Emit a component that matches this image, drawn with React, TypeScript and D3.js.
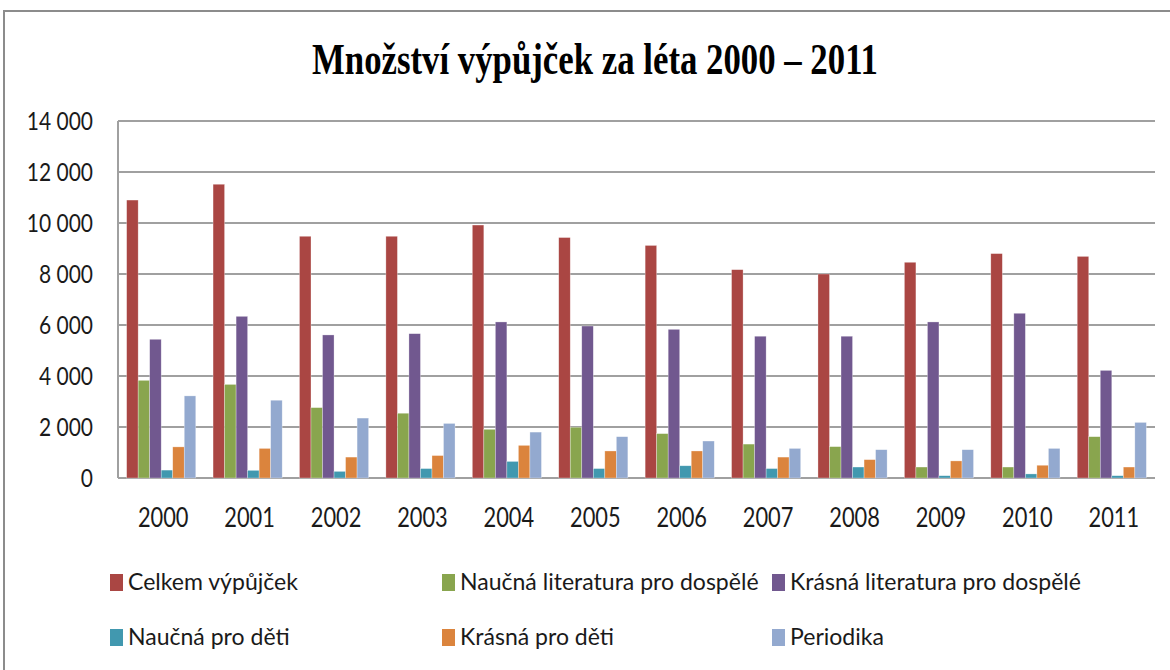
import React from 'react';
import * as d3 from 'd3';

const years = ['2000', '2001', '2002', '2003', '2004', '2005', '2006', '2007', '2008', '2009', '2010', '2011'];
const seriesNames = [
  'Celkem výpůjček',
  'Naučná literatura pro dospělé',
  'Krásná literatura pro dospělé',
  'Naučná pro děti',
  'Krásná pro děti',
  'Periodika',
];
const celkem = [10900, 11520, 9480, 9480, 9920, 9430, 9120, 8170, 8000, 8460, 8800, 8690];
const naucnaDosp = [3830, 3670, 2760, 2540, 1910, 1990, 1740, 1330, 1230, 430, 430, 1620];
const krasnaDosp = [5440, 6340, 5610, 5660, 6120, 5960, 5830, 5560, 5560, 6120, 6460, 4220];
const naucnaDeti = [310, 300, 260, 370, 650, 370, 480, 370, 430, 90, 160, 90];
const krasnaDeti = [1220, 1160, 820, 880, 1280, 1060, 1060, 820, 720, 670, 500, 430];
const periodika = [3220, 3050, 2350, 2140, 1800, 1620, 1450, 1160, 1110, 1110, 1160, 2180];
const seriesValues = [celkem, naucnaDosp, krasnaDosp, naucnaDeti, krasnaDeti, periodika];
const colors = ['#AA4643', '#89A54E', '#71588F', '#4198AF', '#DB843D', '#93A9CF'];
const yTicks = [0, 2000, 4000, 6000, 8000, 10000, 12000, 14000];

const SANS = 'Lato, "Open Sans", sans-serif';
const SX = 0.84;
const LEGEND_SX = 0.96;

export default function App() {
  const left = 118, right = 1155, top = 121, bottom = 478;

  const x = d3.scaleBand().domain(years).range([left, right]).paddingInner(0.2).paddingOuter(0.1);
  const xs = d3.scaleBand().domain(seriesNames).range([0, x.bandwidth()]);
  const y = d3.scaleLinear().domain([0, 14000]).range([bottom, top]);
  const fmt = (v: number) => d3.format(',')(v).replace(/,/g, ' ');

  const legendCols = [110, 442, 772];
  const legendRows = [574, 629];

  return (
    <div style={{ position: 'absolute', left: 0, top: 0 }}>
      <svg width={1170} height={670} style={{ display: 'block', background: '#fff' }}>
        {/* chart frame */}
        <rect x={4} y={11} width={1200} height={700} fill='#fff' stroke='#8c8c8c' strokeWidth={2} />

        {/* title */}
        <text
          x={595}
          y={74}
          textAnchor='middle'
          fontFamily='"Liberation Serif", "Times New Roman", serif'
          fontWeight='bold'
          fontSize={44}
          textLength={566}
          lengthAdjust='spacingAndGlyphs'
          fill='#000'
        >
          Množství výpůjček za léta 2000 – 2011
        </text>

        {/* gridlines */}
        {yTicks.map(t => (
          <line key={t} x1={left} x2={right} y1={y(t)} y2={y(t)} stroke='#a0a0a0' strokeWidth={2} />
        ))}
        <line x1={left} x2={left} y1={top} y2={bottom} stroke='#a0a0a0' strokeWidth={2} />

        {/* y tick labels */}
        {yTicks.map(t => (
          <g key={t} transform={`translate(93,${y(t) + 9}) scale(${SX},1)`}>
            <text textAnchor='end' fontFamily={SANS} fontSize={25} fill='#1a1a1a'>{fmt(t)}</text>
          </g>
        ))}

        {/* bars */}
        {years.map((yr, i) => (
          <g key={yr} transform={`translate(${x(yr)},0)`}>
            {seriesValues.map((vals, s) => (
              <rect
                key={s}
                x={xs(seriesNames[s])}
                y={y(vals[i])}
                width={xs.bandwidth()}
                height={bottom - y(vals[i])}
                fill={colors[s]}
                stroke='#ffffff'
                strokeOpacity={0.5}
                strokeWidth={0.6}
              />
            ))}
          </g>
        ))}

        {/* x labels */}
        {years.map(yr => (
          <g key={yr} transform={`translate(${(x(yr) ?? 0) + x.bandwidth() / 2 + 2},527) scale(${SX},1)`}>
            <text textAnchor='middle' fontFamily={SANS} fontSize={26} fill='#1a1a1a'>{yr}</text>
          </g>
        ))}

        {/* legend */}
        {seriesNames.map((name, s) => {
          const lx = legendCols[s % 3];
          const ly = legendRows[Math.floor(s / 3)];
          return (
            <g key={name}>
              <rect x={lx} y={ly} width={13} height={17} fill={colors[s]} />
              <g transform={`translate(${lx + 18},${ly + 16}) scale(${LEGEND_SX},1)`}>
                <text fontFamily={SANS} fontSize={24} fill='#1a1a1a'>{name}</text>
              </g>
            </g>
          );
        })}
      </svg>
    </div>
  );
}
